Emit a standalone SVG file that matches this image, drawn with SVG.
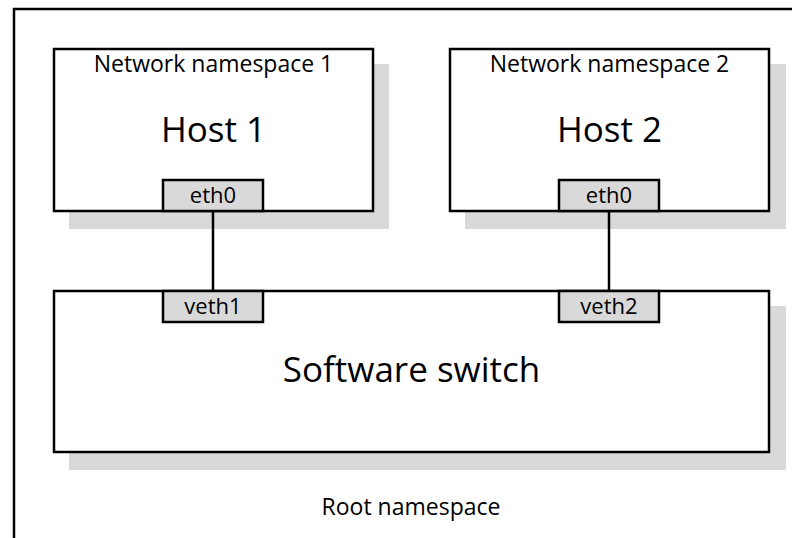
<svg xmlns="http://www.w3.org/2000/svg" width="792" height="538" viewBox="0 0 792 538">
<style>
.box{fill:#ffffff;stroke:#000000;stroke-width:2.5}
.shadow{fill:#d9d9d9;stroke:none}
.port{fill:#d9d9d9;stroke:#000000;stroke-width:2.5}
.wire{stroke:#000000;stroke-width:2.5;fill:none}
text{font-family:"Open Sans",Lato,"Liberation Sans",sans-serif;fill:#000000;text-anchor:middle}
.ns{font-size:23px}
.big{font-size:35px}
.pt{font-size:22px}
.root{font-size:23px}
</style>
<rect x="0" y="0" width="792" height="538" fill="#ffffff"/>
<g id="root-namespace">
<path d="M14,538 V9 H792" class="wire"/>
<text class="root" x="411" y="515">Root namespace</text>
</g>
<g id="host1">
<rect class="shadow" x="69" y="64" width="320" height="165"/>
<rect class="box" x="54" y="49" width="319" height="162"/>
<text class="ns" x="213.5" y="72">Network namespace 1</text>
<text class="big" x="213.5" y="142">Host 1</text>
</g>
<g id="host1-eth0">
<rect class="port" x="163" y="180" width="100" height="31"/>
<text class="pt" x="213" y="203">eth0</text>
</g>
<g id="host2">
<rect class="shadow" x="465" y="64" width="321" height="165"/>
<rect class="box" x="450" y="49" width="319" height="162"/>
<text class="ns" x="609.5" y="72">Network namespace 2</text>
<text class="big" x="609.5" y="142">Host 2</text>
</g>
<g id="host2-eth0">
<rect class="port" x="559" y="180" width="100" height="31"/>
<text class="pt" x="609" y="203">eth0</text>
</g>
<g id="switch">
<rect class="shadow" x="69" y="306" width="717" height="164"/>
<rect class="box" x="54" y="291" width="715" height="161"/>
<text class="big" x="411.5" y="382">Software switch</text>
</g>
<g id="veth1">
<rect class="port" x="163" y="291" width="100" height="31"/>
<text class="pt" x="213" y="314">veth1</text>
</g>
<g id="veth2">
<rect class="port" x="559" y="291" width="100" height="31"/>
<text class="pt" x="609" y="314">veth2</text>
</g>
<g id="connectors">
<line class="wire" x1="213" y1="211" x2="213" y2="291"/>
<line class="wire" x1="609" y1="211" x2="609" y2="291"/>
</g>
</svg>
